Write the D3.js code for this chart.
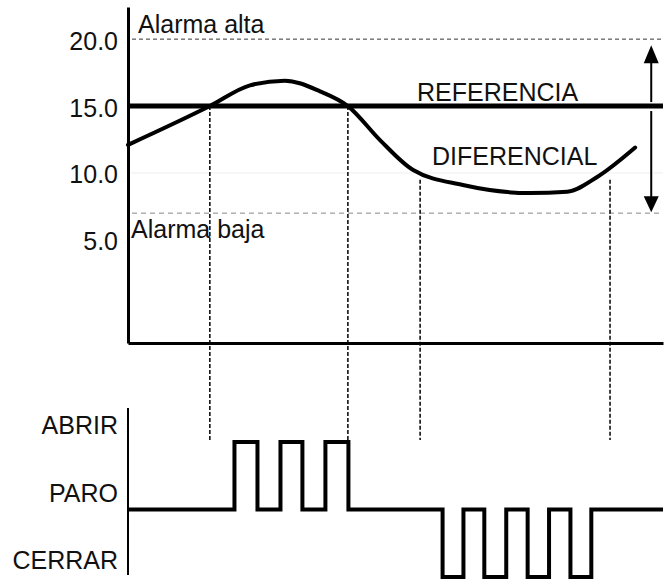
<!DOCTYPE html>
<html><head><meta charset="utf-8">
<script src="https://cdn.jsdelivr.net/npm/d3@7"></script>
<style>
body{margin:0;background:#fff}
text{font-family:"Liberation Sans",Arial,sans-serif;font-size:25px;fill:#111}
</style>
</head><body><svg id="c" width="669" height="579"></svg>
<script>
// ---- data ----
const yTicks = [5, 10, 15, 20];
const referencia = 15;
const alarmaAlta = 20;
const alarmaBaja = 7;
const curveT = [0, 15.3, 22.8, 29.3, 35.9, 41.1, 47.1, 53.3, 62.6, 75.1, 82.1, 87.7, 94.8];
const curveV = [12.1, 15, 16.55, 16.9, 16.1, 15, 12.46, 10.22, 9.1, 8.5, 8.6, 9.7, 11.9];
const eventT = [15.3, 41.1, 54.6, 90.1];
const eventV = [15, 15, 9.5, 9.5];
const levels = ["ABRIR", "PARO", "CERRAR"];
const signalT = [0, 19.9, 24.2, 28.5, 32.6, 36.9, 41.2, 58.8, 62.7, 66.6, 70.7, 74.7, 78.7, 82.7, 86.6, 100];
const signalS = ["PARO","ABRIR","PARO","ABRIR","PARO","ABRIR","PARO","CERRAR","PARO","CERRAR","PARO","CERRAR","PARO","CERRAR","PARO","PARO"];
const arrowT = 97.8;

// ---- scales ----
const svg = d3.select("#c");
const x = d3.scaleLinear().domain([0, 100]).range([128, 663]);
const y = d3.scaleLinear().domain([-2.7, 22.4]).range([343, 7]);
const ys = d3.scalePoint().domain(levels).range([442, 577]);

// faint 10.0 line
svg.append("line").attr("x1", x(0) + 3).attr("x2", x(100))
  .attr("y1", y(10)).attr("y2", y(10)).attr("stroke", "#eee").attr("stroke-width", 1);

// alarm lines
svg.append("line").attr("x1", x(0) + 4).attr("x2", x(100))
  .attr("y1", y(alarmaAlta)).attr("y2", y(alarmaAlta))
  .attr("stroke", "#333").attr("stroke-width", 1).attr("stroke-dasharray", "4,3");
svg.append("line").attr("x1", x(0) + 4).attr("x2", x(100))
  .attr("y1", y(alarmaBaja)).attr("y2", y(alarmaBaja))
  .attr("stroke", "#888").attr("stroke-width", 1).attr("stroke-dasharray", "5,4");

// vertical event lines
svg.selectAll(".ev").data(eventT).join("line").attr("class", "ev")
  .attr("x1", d => x(d)).attr("x2", d => x(d))
  .attr("y1", (d, i) => y(eventV[i])).attr("y2", 440)
  .attr("stroke", "#000").attr("stroke-width", 1.5).attr("stroke-dasharray", "4,2");

// reference line
svg.append("line").attr("x1", x(0)).attr("x2", x(100))
  .attr("y1", y(referencia)).attr("y2", y(referencia))
  .attr("stroke", "#000").attr("stroke-width", 5);

// curve
const pts = curveT.map((t, i) => [x(t), y(curveV[i])]);
svg.append("path").attr("d", d3.line().curve(d3.curveMonotoneX)(pts))
  .attr("fill", "none").attr("stroke", "#000").attr("stroke-width", 4).attr("stroke-linecap", "round");

// axes (top chart)
const gy = svg.append("g").attr("transform", `translate(${x(0)},0)`)
  .call(d3.axisLeft(y).tickValues(yTicks).tickFormat(d3.format(".1f")).tickSize(0).tickSizeOuter(0).tickPadding(10));
gy.select(".domain").attr("stroke", "#000").attr("stroke-width", 3);
gy.selectAll("text").attr("font-size", null).attr("font-family", null).attr("dy", "0.4em");
const gx = svg.append("g").attr("transform", `translate(0,${y(-2.7)})`)
  .call(d3.axisBottom(x).tickValues([]).tickSizeOuter(0));
gx.select(".domain").attr("stroke", "#000").attr("stroke-width", 3);

// labels
svg.append("text").attr("x", x(0) + 10).attr("y", y(alarmaAlta) - 6).text("Alarma alta");
svg.append("text").attr("x", x(0) + 3).attr("y", y(alarmaBaja) + 25).text("Alarma baja");
svg.append("text").attr("x", 417).attr("y", y(referencia) - 5).text("REFERENCIA");
svg.append("text").attr("x", 432).attr("y", y(10) - 8).text("DIFERENCIAL");

// double arrow
const ax = x(arrowT);
svg.append("line").attr("x1", ax).attr("x2", ax).attr("y1", y(alarmaAlta) + 20).attr("y2", y(referencia) - 4)
  .attr("stroke", "#000").attr("stroke-width", 2);
svg.append("line").attr("x1", ax).attr("x2", ax).attr("y1", y(referencia) + 5).attr("y2", y(alarmaBaja) - 14)
  .attr("stroke", "#000").attr("stroke-width", 2);
const tipTop = y(alarmaAlta) + 6, tipBot = y(alarmaBaja) - 1;
svg.append("path").attr("d", `M${ax},${tipTop}L${ax - 7.5},${tipTop + 18}L${ax + 7.5},${tipTop + 18}Z`).attr("fill", "#000");
svg.append("path").attr("d", `M${ax},${tipBot}L${ax - 7.5},${tipBot - 16}L${ax + 7.5},${tipBot - 16}Z`).attr("fill", "#000");

// bottom chart
svg.append("line").attr("x1", x(0)).attr("x2", x(0)).attr("y1", 408).attr("y2", 575)
  .attr("stroke", "#000").attr("stroke-width", 2);
svg.selectAll(".lvl").data(levels).join("text").attr("class", "lvl")
  .attr("x", 118).attr("y", d => ys(d) - 8).attr("text-anchor", "end").text(d => d);

const sig = signalT.map((t, i) => [x(t), ys(signalS[i])]);
svg.append("path").attr("d", d3.line().curve(d3.curveStepAfter)(sig))
  .attr("fill", "none").attr("stroke", "#000").attr("stroke-width", 4).attr("stroke-linejoin", "miter");
</script>
</body></html>
